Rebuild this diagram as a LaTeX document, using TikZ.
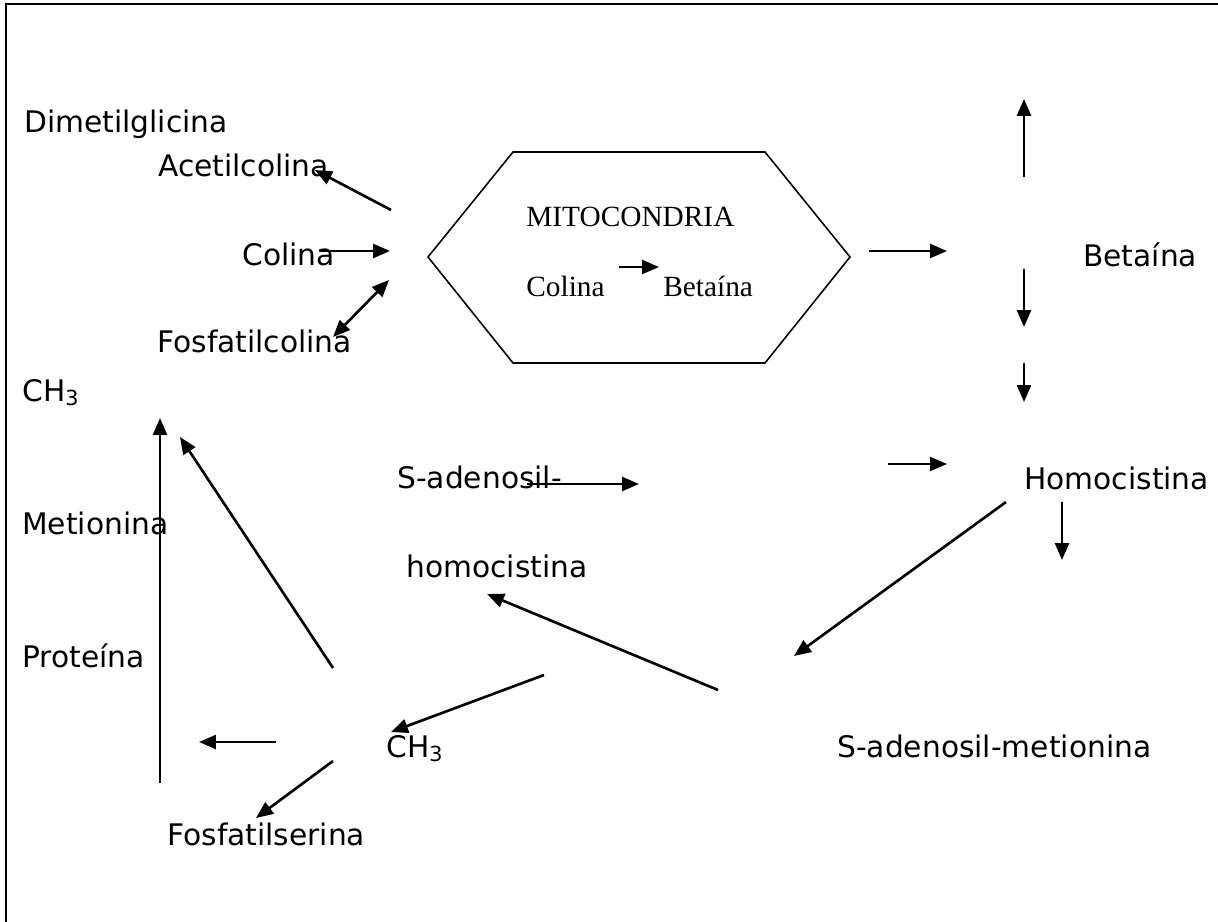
\documentclass[tikz,border=0pt]{standalone}
\usepackage{fontspec}
\setmainfont{DejaVu Sans}
\newfontfamily\serifbox{Liberation Serif}
\usetikzlibrary{arrows.meta}
\begin{document}
\begin{tikzpicture}[x=0.02cm,y=-0.02cm,
  lbl/.style={anchor=base west, inner sep=0pt, font=\fontsize{16.9}{20}\selectfont},
  mlbl/.style={anchor=base west, inner sep=0pt, font=\serifbox\fontsize{16.7}{20}\selectfont},
  arr/.style={line width=1.5pt, -{Triangle[length=0.34cm,width=0.28cm]}},
  darr/.style={line width=1.5pt, {Triangle[length=0.34cm,width=0.28cm]}-{Triangle[length=0.34cm,width=0.28cm]}},
  hexline/.style={line width=0.9pt, line join=miter},
  framel/.style={line width=1.1pt}]

\useasboundingbox (0,0) rectangle (1218,922);

% open frame (top and left edges)
\coordinate (fTR) at (1218,4);
\coordinate (fTL) at (6,4);
\coordinate (fBL) at (6,922);
\draw[framel] (fTR) -- (fTL) -- (fBL);

% mitochondrion hexagon
\coordinate (hL)  at (428,257);
\coordinate (hTL) at (513,152);
\coordinate (hTR) at (765,152);
\coordinate (hR)  at (850,257);
\coordinate (hBR) at (765,363);
\coordinate (hBL) at (513,363);
\draw[hexline] (hL) -- (hTL) -- (hTR) -- (hR) -- (hBR) -- (hBL) -- cycle;
\node[mlbl] (mito)  at (526,227) {MITOCONDRIA};
\node[mlbl] (mcol)  at (526,297) {Colina};
\node[mlbl] (mbet)  at (663,297) {Betaína};
\coordinate (m1) at (619,267);
\coordinate (m2) at (659,267);
\draw[arr] (m1) -- (m2);

% labels
\node[lbl] (dimet)  at (24,133)  {Dimetilglicina};
\node[lbl] (acet)   at (158,177) {Acetilcolina};
\node[lbl] (col)    at (242,266) {Colina};
\node[lbl] (fcol)   at (157,353) {Fosfatilcolina};
\node[lbl] (ch3a)   at (22,401)  {CH\textsubscript{3}};
\node[lbl] (met)    at (22,534)  {Metionina};
\node[lbl] (prot)   at (22,667)  {Proteína};
\node[lbl] (fser)   at (167,845) {Fosfatilserina};
\node[lbl] (sah1)   at (397,488) {S-adenosil-};
\node[lbl] (sah2)   at (406,577) {homocistina};
\node[lbl] (ch3b)   at (386,757) {CH\textsubscript{3}};
\node[lbl] (hcy)    at (1024,489) {Homocistina};
\node[lbl] (sam)    at (837,757) {S-adenosil-metionina};
\node[lbl] (bet)    at (1083,267) {Betaína};

% arrow end points
\coordinate (a1s) at (391,210);  \coordinate (a1e) at (315,170);
\coordinate (a2s) at (320,251);  \coordinate (a2e) at (390,251);
\coordinate (a3s) at (389,280);  \coordinate (a3e) at (333,337);
\coordinate (a5s) at (869,251);  \coordinate (a5e) at (947,251);
\coordinate (a6s) at (1024,177); \coordinate (a6e) at (1024,99);
\coordinate (a7s) at (1024,269); \coordinate (a7e) at (1024,327);
\coordinate (a8s) at (1024,363); \coordinate (a8e) at (1024,402);
\coordinate (a9s) at (888,464);  \coordinate (a9e) at (947,464);
\coordinate (a10s) at (1062,502); \coordinate (a10e) at (1062,560);
\coordinate (a11s) at (1006,502); \coordinate (a11e) at (794,656);
\coordinate (a12s) at (718,690);  \coordinate (a12e) at (487,594);
\coordinate (a13s) at (527,484);  \coordinate (a13e) at (639,484);
\coordinate (a14s) at (544,675);  \coordinate (a14e) at (391,732);
\coordinate (a15s) at (276,742);  \coordinate (a15e) at (199,742);
\coordinate (a16s) at (333,761);  \coordinate (a16e) at (256,818);
\coordinate (a17s) at (333,668);  \coordinate (a17e) at (180,437);
\coordinate (a18s) at (160,783);  \coordinate (a18e) at (160,418);

% arrows
\draw[arr]  (a1s) -- (a1e);
\draw[arr]  (a2s) -- (a2e);
\draw[darr] (a3s) -- (a3e);
\draw[arr]  (a5s) -- (a5e);
\draw[arr]  (a6s) -- (a6e);
\draw[arr]  (a7s) -- (a7e);
\draw[arr]  (a8s) -- (a8e);
\draw[arr]  (a9s) -- (a9e);
\draw[arr]  (a10s) -- (a10e);
\draw[arr]  (a11s) -- (a11e);
\draw[arr]  (a12s) -- (a12e);
\draw[arr]  (a13s) -- (a13e);
\draw[arr]  (a14s) -- (a14e);
\draw[arr]  (a15s) -- (a15e);
\draw[arr]  (a16s) -- (a16e);
\draw[arr]  (a17s) -- (a17e);
\draw[arr]  (a18s) -- (a18e);
\end{tikzpicture}
\end{document}
